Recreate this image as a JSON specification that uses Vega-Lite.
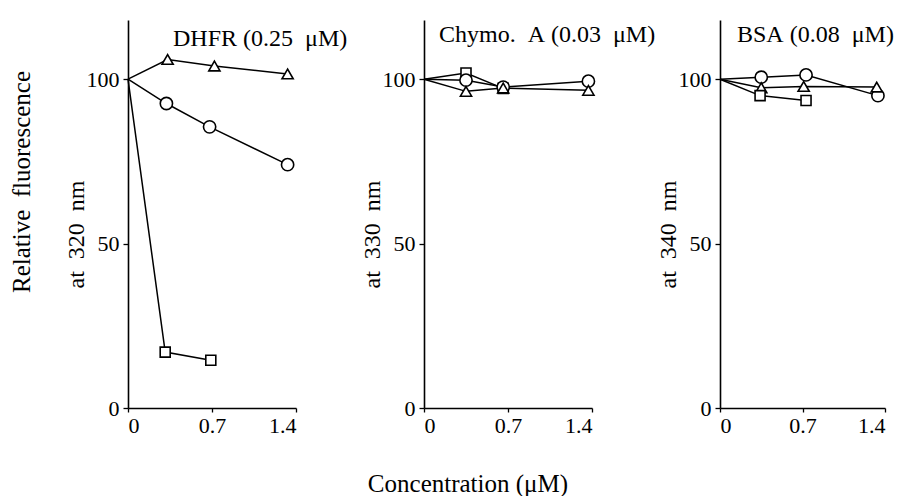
{
  "$schema": "https://vega.github.io/schema/vega-lite/v6.json",
  "background": "white",
  "padding": {"left": 9, "top": 20, "right": 0, "bottom": 0},
  "config": {
    "font": "Liberation Serif",
    "view": {"stroke": null},
    "axis": {
      "grid": false,
      "domainColor": "black",
      "domainWidth": 1.6,
      "tickColor": "black",
      "tickWidth": 1.3,
      "labelColor": "black",
      "titleColor": "black",
      "labelFont": "Liberation Serif",
      "titleFont": "Liberation Serif",
      "labelFontSize": 22,
      "titleFontSize": 24,
      "titleFontWeight": "normal"
    },
    "axisX": {"tickSize": 4, "labelPadding": 3, "labelBaseline": "top", "labelExpr": "datum.value == 0 ? '0' : format(datum.value, '.1f')"},
    "axisY": {"tickSize": 5, "labelPadding": 4, "titlePadding": -2, "titleY": 214},
    "title": {"font": "Liberation Serif", "fontWeight": "normal", "color": "black", "fontSize": 24}
  },
  "datasets": {
    "d": [
      {"p": "DHFR", "s": "triangle", "c": 0, "f": 100},
      {"p": "DHFR", "s": "triangle", "c": 0.33, "f": 106},
      {"p": "DHFR", "s": "triangle", "c": 0.72, "f": 104},
      {"p": "DHFR", "s": "triangle", "c": 1.33, "f": 101.6},
      {"p": "DHFR", "s": "circle", "c": 0, "f": 100},
      {"p": "DHFR", "s": "circle", "c": 0.32, "f": 92.6},
      {"p": "DHFR", "s": "circle", "c": 0.68, "f": 85.5},
      {"p": "DHFR", "s": "circle", "c": 1.33, "f": 74},
      {"p": "DHFR", "s": "square", "c": 0, "f": 100},
      {"p": "DHFR", "s": "square", "c": 0.31, "f": 17},
      {"p": "DHFR", "s": "square", "c": 0.69, "f": 14.5},
      {"p": "Chymo", "s": "square", "c": 0, "f": 100},
      {"p": "Chymo", "s": "square", "c": 0.35, "f": 101.9},
      {"p": "Chymo", "s": "square", "c": 0.66, "f": 97.2},
      {"p": "Chymo", "s": "circle", "c": 0, "f": 100},
      {"p": "Chymo", "s": "circle", "c": 0.35, "f": 99.7},
      {"p": "Chymo", "s": "circle", "c": 0.66, "f": 97.6},
      {"p": "Chymo", "s": "circle", "c": 1.37, "f": 99.4},
      {"p": "Chymo", "s": "triangle", "c": 0, "f": 100},
      {"p": "Chymo", "s": "triangle", "c": 0.35, "f": 96.3},
      {"p": "Chymo", "s": "triangle", "c": 0.66, "f": 97.3},
      {"p": "Chymo", "s": "triangle", "c": 1.37, "f": 96.6},
      {"p": "BSA", "s": "circle", "c": 0, "f": 100},
      {"p": "BSA", "s": "circle", "c": 0.35, "f": 100.6},
      {"p": "BSA", "s": "circle", "c": 0.73, "f": 101.3},
      {"p": "BSA", "s": "circle", "c": 1.34, "f": 95},
      {"p": "BSA", "s": "triangle", "c": 0, "f": 100},
      {"p": "BSA", "s": "triangle", "c": 0.35, "f": 97.4},
      {"p": "BSA", "s": "triangle", "c": 0.71, "f": 97.8},
      {"p": "BSA", "s": "triangle", "c": 1.33, "f": 97.6},
      {"p": "BSA", "s": "square", "c": 0, "f": 100},
      {"p": "BSA", "s": "square", "c": 0.34, "f": 95},
      {"p": "BSA", "s": "square", "c": 0.73, "f": 93.5}
    ]
  },
  "title": {
    "text": "Concentration (μM)",
    "orient": "bottom",
    "anchor": "middle",
    "frame": "bounds",
    "baseline": "alphabetic",
    "offset": 56,
    "dx": 16,
    "fontSize": 25
  },
  "vconcat": [
    {
      "title": {
        "text": "Relative\u00a0\u00a0fluorescence",
        "orient": "left",
        "anchor": "middle",
        "baseline": "bottom",
        "offset": 4,
        "dx": 46,
        "fontSize": 25
      },
      "bounds": "flush",
      "spacing": 128,
      "hconcat": [
        {
          "width": 168,
          "height": 388,
          "title": {"text": "DHFR\u00a0(0.25\u00a0\u00a0μM)", "anchor": "start", "frame": "group", "dx": 45, "offset": -50, "baseline": "alphabetic"},
          "data": {"name": "d"},
          "transform": [{"filter": "datum.p === 'DHFR'"}],
          "encoding": {
            "x": {"field": "c", "type": "quantitative", "scale": {"domain": [0, 1.4], "nice": false}, "axis": {"values": [0, 0.7, 1.4], "title": null}},
            "y": {"field": "f", "type": "quantitative", "scale": {"domain": [0, 118], "nice": false}, "axis": {"values": [0, 50, 100], "format": "d", "title": "at\u00a0\u00a0320\u00a0\u00a0nm"}}
          },
          "layer": [
            {"mark": {"type": "line", "color": "black", "strokeWidth": 1.5}, "encoding": {"detail": {"field": "s", "type": "nominal"}}},
            {
              "transform": [{"filter": "datum.c > 0"}],
              "mark": {"type": "point", "fill": "white", "stroke": "black", "strokeWidth": 1.6, "opacity": 1, "fillOpacity": 1},
              "encoding": {
                "shape": {"field": "s", "type": "nominal", "scale": {"domain": ["circle", "triangle", "square"], "range": ["circle", "triangle-up", "square"]}, "legend": null},
                "size": {"field": "s", "type": "ordinal", "scale": {"domain": ["circle", "triangle", "square"], "range": [150, 100, 120]}, "legend": null}
              }
            }
          ]
        },
        {
          "width": 168,
          "height": 388,
          "title": {"text": "Chymo.\u00a0\u00a0A\u00a0(0.03\u00a0\u00a0μM)", "anchor": "start", "frame": "group", "dx": 15, "offset": -46, "baseline": "alphabetic"},
          "data": {"name": "d"},
          "transform": [{"filter": "datum.p === 'Chymo'"}],
          "encoding": {
            "x": {"field": "c", "type": "quantitative", "scale": {"domain": [0, 1.4], "nice": false}, "axis": {"values": [0, 0.7, 1.4], "title": null}},
            "y": {"field": "f", "type": "quantitative", "scale": {"domain": [0, 118], "nice": false}, "axis": {"values": [0, 50, 100], "format": "d", "title": "at\u00a0\u00a0330\u00a0\u00a0nm"}}
          },
          "layer": [
            {"mark": {"type": "line", "color": "black", "strokeWidth": 1.5}, "encoding": {"detail": {"field": "s", "type": "nominal"}}},
            {
              "transform": [{"filter": "datum.c > 0"}],
              "mark": {"type": "point", "fill": "white", "stroke": "black", "strokeWidth": 1.6, "opacity": 1, "fillOpacity": 1},
              "encoding": {
                "shape": {"field": "s", "type": "nominal", "scale": {"domain": ["circle", "triangle", "square"], "range": ["circle", "triangle-up", "square"]}, "legend": null},
                "size": {"field": "s", "type": "ordinal", "scale": {"domain": ["circle", "triangle", "square"], "range": [150, 100, 120]}, "legend": null}
              }
            }
          ]
        },
        {
          "width": 165,
          "height": 388,
          "title": {"text": "BSA\u00a0(0.08\u00a0\u00a0μM)", "anchor": "start", "frame": "group", "dx": 17, "offset": -46, "baseline": "alphabetic"},
          "data": {"name": "d"},
          "transform": [{"filter": "datum.p === 'BSA'"}],
          "encoding": {
            "x": {"field": "c", "type": "quantitative", "scale": {"domain": [0, 1.4], "nice": false}, "axis": {"values": [0, 0.7, 1.4], "title": null}},
            "y": {"field": "f", "type": "quantitative", "scale": {"domain": [0, 118], "nice": false}, "axis": {"values": [0, 50, 100], "format": "d", "title": "at\u00a0\u00a0340\u00a0\u00a0nm"}}
          },
          "layer": [
            {"mark": {"type": "line", "color": "black", "strokeWidth": 1.5}, "encoding": {"detail": {"field": "s", "type": "nominal"}}},
            {
              "transform": [{"filter": "datum.c > 0"}],
              "mark": {"type": "point", "fill": "white", "stroke": "black", "strokeWidth": 1.6, "opacity": 1, "fillOpacity": 1},
              "encoding": {
                "shape": {"field": "s", "type": "nominal", "scale": {"domain": ["circle", "triangle", "square"], "range": ["circle", "triangle-up", "square"]}, "legend": null},
                "size": {"field": "s", "type": "ordinal", "scale": {"domain": ["circle", "triangle", "square"], "range": [150, 100, 120]}, "legend": null}
              }
            }
          ]
        }
      ]
    }
  ]
}
